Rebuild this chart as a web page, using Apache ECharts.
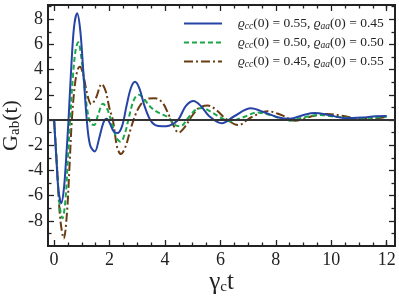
<!DOCTYPE html>
<html>
<head>
<meta charset="utf-8">
<script src="https://cdn.jsdelivr.net/npm/echarts@6/dist/echarts.min.js"></script>
<style>html,body{margin:0;padding:0;background:#fff;}#c{width:399px;height:300px;}</style>
</head>
<body>
<div id="c"></div>
<script>
// Data (t, G_ab(t))
const blue = [[0,0],[0.08,-3.0],[0.16,-5.6],[0.26,-6.6],[0.36,-5.3],[0.45,-2.5],[0.52,0],[0.62,4.2],[0.72,7.4],[0.83,8.47],[0.94,7.2],[1.05,4.0],[1.18,0],[1.3,-2.0],[1.47,-2.5],[1.62,-1.5],[1.78,-0.2],[1.9,0.1],[2.02,-0.3],[2.15,-0.9],[2.28,-1.04],[2.45,-0.5],[2.62,1.2],[2.78,2.6],[2.92,3.04],[3.08,2.5],[3.25,1.2],[3.47,0],[3.65,-0.4],[3.9,-0.5],[4.15,-0.45],[4.47,0],[4.75,1.1],[5.03,1.5],[5.3,1.1],[5.6,0.3],[6.05,-0.26],[6.5,0.3],[7.1,0.93],[7.6,0.6],[8.1,0.2],[8.5,0.1],[9.0,0.4],[9.4,0.55],[9.9,0.4],[10.5,0.15],[11.1,0.2],[11.6,0.3],[12.0,0.32]];
const green = [[0,0],[0.1,-3.5],[0.2,-6.8],[0.3,-7.8],[0.4,-6.6],[0.5,-3.0],[0.58,0],[0.68,3.5],[0.78,5.6],[0.87,6.17],[0.98,5.0],[1.1,2.6],[1.22,0.5],[1.33,-0.3],[1.44,-0.4],[1.6,0.5],[1.76,1.3],[1.93,0.8],[2.1,-0.4],[2.25,-1.4],[2.4,-1.72],[2.55,-1.1],[2.72,0.4],[2.88,1.6],[3.05,2.0],[3.2,1.8],[3.47,1.05],[3.77,0.58],[4.0,0.35],[4.13,0.2],[4.37,-0.4],[4.55,-0.5],[4.85,0.2],[5.1,0.8],[5.35,0.95],[5.7,0.6],[6.0,0.2],[6.35,-0.1],[6.8,0.2],[7.35,0.6],[7.8,0.4],[8.5,-0.05],[9.0,0.2],[9.55,0.4],[10.2,0.25],[11.0,0.15],[12.0,0.25]];
const brown = [[0,0],[0.1,-3.5],[0.22,-7.8],[0.35,-9.4],[0.46,-7.5],[0.56,-3.5],[0.64,0],[0.75,2.8],[0.85,4.0],[0.93,4.23],[1.05,3.6],[1.2,2.0],[1.34,1.25],[1.5,1.7],[1.72,2.86],[1.86,2.3],[2.0,0.9],[2.12,0],[2.28,-2.2],[2.41,-2.7],[2.58,-2.1],[2.75,-0.8],[2.95,0.5],[3.15,1.3],[3.4,1.7],[3.65,1.72],[3.9,1.4],[4.1,0.6],[4.3,-0.4],[4.49,-1.0],[4.7,-0.6],[5.0,0.4],[5.25,1.0],[5.55,1.15],[5.85,0.8],[6.2,0.1],[6.65,-0.4],[7.1,0.2],[7.7,0.7],[8.2,0.4],[8.7,-0.05],[9.3,0.3],[9.85,0.48],[10.5,0.3],[11.0,0.1],[11.6,0.15],[12.0,0.25]];
const seriesNames = ['s1','s2','s3'];
const legendParams = [['cc','0.55','aa','0.45'],['cc','0.50','aa','0.50'],['cc','0.45','aa','0.55']];
const xMajor = [0,2,4,6,8,10,12];
const xMinor = [0.5,1,1.5,2.5,3,3.5,4.5,5,5.5,6.5,7,7.5,8.5,9,9.5,10.5,11,11.5,12];
const yMajor = [-8,-6,-4,-2,0,2,4,6,8];
const yMinor = [-9,-7,-5,-3,-1,1,3,5,7,9];

const X_MIN = -0.22, X_MAX = 12.3, Y_MIN = -10, Y_MAX = 9.13;
const AX = '#222';
const serif = 'Liberation Serif';

function xAx(pos, vals, len, labels, extra){
  return Object.assign({type:'value', min:X_MIN, max:X_MAX, position:pos, gridIndex:0,
    axisLine:{show:true, onZero:false, lineStyle:{color:AX, width:2}},
    axisTick:{show:true, inside:true, length:len, customValues:vals, lineStyle:{color:AX,width:1.3}},
    axisLabel: labels ? {show:true, customValues:vals, fontFamily:serif, fontSize:18, color:AX, margin:5} : {show:false},
    splitLine:{show:false}}, extra||{});
}
function yAx(pos, vals, len, labels, extra){
  return Object.assign({type:'value', min:Y_MIN, max:Y_MAX, position:pos, gridIndex:0,
    axisLine:{show:true, onZero:false, lineStyle:{color:AX, width:2}},
    axisTick:{show:true, inside:true, length:len, customValues:vals, lineStyle:{color:AX,width:1.3}},
    axisLabel: labels ? {show:true, customValues:vals, fontFamily:serif, fontSize:18, color:AX, margin:5} : {show:false},
    splitLine:{show:false}}, extra||{});
}

const chart = echarts.init(document.getElementById('c'), null, {renderer:'canvas'});
const colors = ['#2644a6','#1aa84a','#6b3c12'];
const types = ['solid',[5,3],[9,3,2,3]];
const datas = [blue, green, brown];

const legendRich = {
  g:{width:11},
  r:{fontFamily:serif, fontStyle:'italic', fontSize:13.5, color:AX},
  s:{fontFamily:serif, fontStyle:'italic', fontSize:9.5, color:AX, verticalAlign:'bottom', padding:[5,0,0,0]},
  n:{fontFamily:serif, fontSize:13.5, color:AX}
};

chart.setOption({
  animation:false,
  grid:{left:48, right:4, top:5, bottom:54, containLabel:false, outerBoundsMode:'none'},
  legend:{
    show:true, orient:'vertical', left:178, top:11, itemWidth:38, itemHeight:10, itemGap:4,
    data:seriesNames,
    itemStyle:{opacity:0},
    formatter:function(name){
      const p = legendParams[seriesNames.indexOf(name)];
      return '{g| }{r|ϱ}{s|'+p[0]+'}{n|(0) = '+p[1]+', }{r|ϱ}{s|'+p[2]+'}{n|(0) = '+p[3]+'}';
    },
    textStyle:{rich:legendRich, lineHeight:15}
  },
  xAxis:[
    xAx('bottom', xMajor, 6, true, {name:'{a|γ}{b|c}{a|t}', nameLocation:'middle', nameGap:24, nameMoveOverlap:false,
      nameTextStyle:{rich:{a:{fontFamily:serif, fontSize:25, color:AX}, b:{fontFamily:serif, fontSize:15, color:AX, verticalAlign:'bottom', padding:[10,0,0,0]}}}}),
    xAx('bottom', xMinor, 3.5, false),
    xAx('top', xMajor, 6, false),
    xAx('top', xMinor, 3.5, false)
  ],
  yAxis:[
    yAx('left', yMajor, 6, true, {name:'{a|G}{b|ab}{a|(t)}', nameLocation:'middle', nameGap:25, nameRotate:90, nameMoveOverlap:false,
      nameTextStyle:{rich:{a:{fontFamily:serif, fontSize:22, color:AX}, b:{fontFamily:serif, fontSize:15, color:AX, verticalAlign:'bottom', padding:[8,0,0,0]}}}}),
    yAx('left', yMinor, 3.5, false),
    yAx('right', yMajor, 6, false),
    yAx('right', yMinor, 3.5, false)
  ],
  series: datas.map((d,i)=>({
    name:seriesNames[i], type:'line', data:d, xAxisIndex:0, yAxisIndex:0,
    smooth:0.35, symbol:'none', clip:true, z: 3 - i,
    lineStyle:{color:colors[i], width:2, type:types[i]},
    itemStyle:{color:colors[i]},
    markLine: i===0 ? {silent:true, symbol:'none', label:{show:false},
      lineStyle:{color:'#333', width:2, type:'solid'}, data:[{yAxis:0}]} : undefined
  }))
});
</script>
</body>
</html>
